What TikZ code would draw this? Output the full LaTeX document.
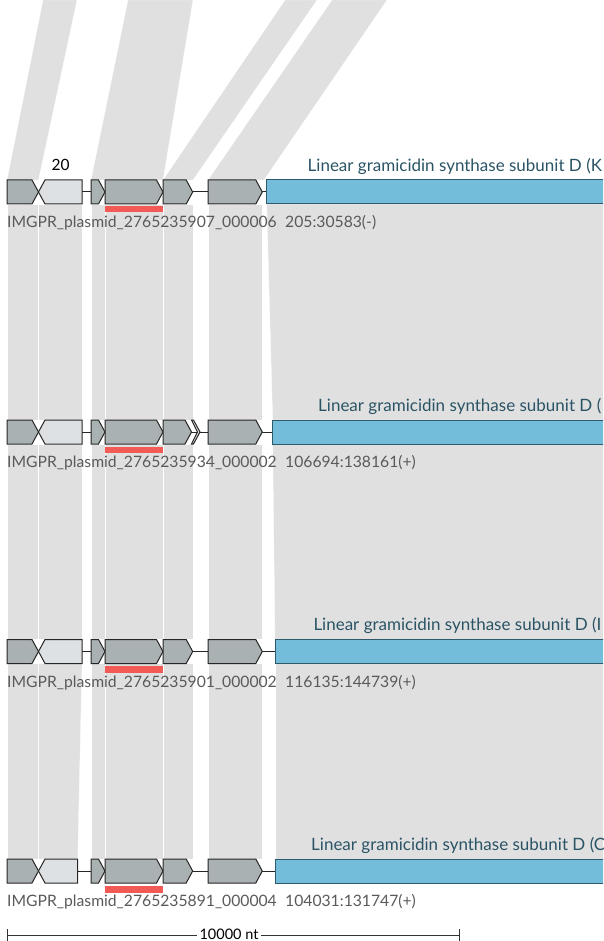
\documentclass[tikz,border=0pt]{standalone}
\usepackage{fontspec}
\setmainfont{Lato}
\definecolor{bandgray}{HTML}{E0E0E0}
\definecolor{genegray}{HTML}{AAB1B2}
\definecolor{genelight}{HTML}{DEE1E3}
\definecolor{geneblue}{HTML}{74BDDA}
\definecolor{blueedge}{HTML}{2E5A6B}
\definecolor{redbar}{HTML}{F25A55}
\definecolor{titlecol}{HTML}{2A5466}
\definecolor{labelcol}{HTML}{5A5A5A}
\tikzset{
  band/.style={fill=bandgray, draw=white, line width=0.25pt},
  gene/.style={draw=black!85, line width=1pt, fill=genegray, line join=miter},
  genel/.style={gene, fill=genelight},
  geneb/.style={draw=blueedge, line width=1pt, fill=geneblue},
  backbone/.style={draw=black!85, line width=1pt},
  hit/.style={fill=redbar},
  titletext/.style={anchor=base west, inner sep=0pt, text=titlecol, font=\fontsize{17}{20}\selectfont},
  nametext/.style={anchor=base west, inner sep=0pt, text=labelcol, font=\fontsize{15.7}{18}\selectfont},
  numtext/.style={anchor=base, inner sep=0pt, text=black, font=\fontsize{15.5}{18}\selectfont},
}
% right-pointing gene: x1, x2, ytop, style
\newcommand{\GeneR}[4]{\path[#4] (#1,#3) -- ({#2-6.5},#3) -- (#2,{#3+12}) -- ({#2-6.5},{#3+24}) -- (#1,{#3+24}) -- cycle;}
% left-pointing gene
\newcommand{\GeneL}[4]{\path[#4] (#1,{#3+12}) -- ({#1+6.5},#3) -- (#2,#3) -- (#2,{#3+24}) -- ({#1+6.5},{#3+24}) -- cycle;}
% band: upper x1, x2, y upper, lower x1, x2, y lower
\newcommand{\Band}[6]{\path[band] (#1,#3) -- (#2,#3) -- (#5,#6) -- (#4,#6) -- cycle;}
\begin{document}
\begin{tikzpicture}[x=1pt,y=-1pt]
\useasboundingbox (0,0) rectangle (603,941);
\clip (0,0) rectangle (603,941);
% ---- bands from above
\Band{43}{77}{0}{7}{38.5}{180}
\Band{128}{193}{0}{91}{163}{180}
\Band{285}{317}{0}{163}{193}{180}
\Band{332}{387}{0}{208}{264}{180}
% ---- bands row1 -> row2
\Band{7}{38.5}{204}{7}{38.5}{420}
\Band{38.5}{82}{204}{38.5}{82}{420}
\Band{91}{105}{204}{91}{105}{420}
\Band{105}{163}{204}{105}{163}{420}
\Band{163}{193}{204}{163}{193}{420}
\Band{208}{262}{204}{208}{262}{420}
\Band{266.7}{640}{204}{272.7}{640}{420}
% ---- bands row2 -> row3
\Band{7}{38.5}{444}{7}{38.5}{639.5}
\Band{38.5}{82}{444}{38.5}{82}{639.5}
\Band{91}{105}{444}{91}{105}{639.5}
\Band{105}{163}{444}{105}{163}{639.5}
\Band{163}{193}{444}{163}{193}{639.5}
\Band{208}{262}{444}{208}{262}{639.5}
\Band{272.7}{640}{444}{275}{640}{639.5}
% ---- bands row3 -> row4
\Band{7}{38.5}{663.5}{7}{38.5}{859}
\Band{38.5}{82}{663.5}{38.5}{77.7}{859}
\Band{91}{105}{663.5}{91}{105}{859}
\Band{105}{163}{663.5}{105}{163}{859}
\Band{163}{193}{663.5}{163}{193}{859}
\Band{208}{262}{663.5}{208}{262}{859}
\Band{275}{640}{663.5}{275}{640}{859}

% ================= row 1 =================
\draw[backbone] (7,192) -- (300,192);
\GeneR{7}{38.5}{180}{gene}
\GeneL{38.5}{82}{180}{genel}
\GeneR{91}{105}{180}{gene}
\GeneR{105}{163}{180}{gene}
\GeneR{163}{192.7}{180}{gene}
\GeneR{208}{262.3}{180}{gene}
\path[geneb] (266.7,180) rectangle (640,204);
\path[hit] (105,206) rectangle (163,212.3);
\node[numtext] (n20) at (60.5,170.5) {20};
\node[titletext] (t1) at (307.5,171.3) {Linear gramicidin synthase subunit D (K};
\node[nametext] (l1) at (7,227.5) {IMGPR\_plasmid\_2765235907\_000006};
\node[nametext] (c1) at (285,227.5) {205:30583(-)};

% ================= row 2 =================
\draw[backbone] (7,432) -- (300,432);
\GeneR{7}{38.5}{420}{gene}
\GeneL{38.5}{82}{420}{genel}
\GeneR{91}{105}{420}{gene}
\GeneR{105}{163}{420}{gene}
\GeneR{163}{191.5}{420}{gene}
\path[genel] (191.5,420) -- (193.5,420) -- (200,432) -- (193.5,444) -- (191.5,444) -- (197.5,432) -- cycle;
\GeneR{208}{262.3}{420}{gene}
\path[geneb] (272.7,420) rectangle (640,444);
\path[hit] (105,446.7) rectangle (163,453.3);
\node[titletext] (t2) at (318,411.7) {Linear gramicidin synthase subunit D (};
\node[nametext] (l2) at (7,467.5) {IMGPR\_plasmid\_2765235934\_000002};
\node[nametext] (c2) at (285,467.5) {106694:138161(+)};

% ================= row 3 =================
\draw[backbone] (7,651.5) -- (300,651.5);
\GeneR{7}{38.5}{639.5}{gene}
\GeneL{38.5}{82}{639.5}{genel}
\GeneR{91}{105}{639.5}{gene}
\GeneR{105}{163}{639.5}{gene}
\GeneR{163}{192.7}{639.5}{gene}
\GeneR{208}{262.3}{639.5}{gene}
\path[geneb] (275,639.5) rectangle (640,663.5);
\path[hit] (105,666) rectangle (163,672.7);
\node[titletext] (t3) at (313.3,630.7) {Linear gramicidin synthase subunit D (I};
\node[nametext] (l3) at (7,687) {IMGPR\_plasmid\_2765235901\_000002};
\node[nametext] (c3) at (285,687) {116135:144739(+)};

% ================= row 4 =================
\draw[backbone] (7,871) -- (300,871);
\GeneR{7}{38.5}{859}{gene}
\GeneL{38.5}{77.7}{859}{genel}
\GeneR{91}{105}{859}{gene}
\GeneR{105}{163}{859}{gene}
\GeneR{163}{192.7}{859}{gene}
\GeneR{208}{262.3}{859}{gene}
\path[geneb] (275,859) rectangle (640,883);
\path[hit] (105,886) rectangle (163,892.7);
\node[titletext] (t4) at (311,850.7) {Linear gramicidin synthase subunit D (C};
\node[nametext] (l4) at (7,906.5) {IMGPR\_plasmid\_2765235891\_000004};
\node[nametext] (c4) at (285,906.5) {104031:131747(+)};

% ================= scale bar =================
\coordinate (sbl) at (7.3,935);
\coordinate (sbr) at (459,935);
\node[numtext, font=\fontsize{14.5}{17}\selectfont, fill=white, inner sep=0pt] (sbt) at (229,939.3) {\,10000 nt\,};
\draw[line width=1pt, black!80] (sbl) -- (sbt.west |- sbl);
\draw[line width=1pt, black!80] (sbt.east |- sbr) -- (sbr);
\draw[line width=1pt, black!80] ([yshift=-7pt]sbl) -- ([yshift=6pt]sbl);
\draw[line width=1pt, black!80] ([yshift=-7pt]sbr) -- ([yshift=6pt]sbr);
\end{tikzpicture}
\end{document}
